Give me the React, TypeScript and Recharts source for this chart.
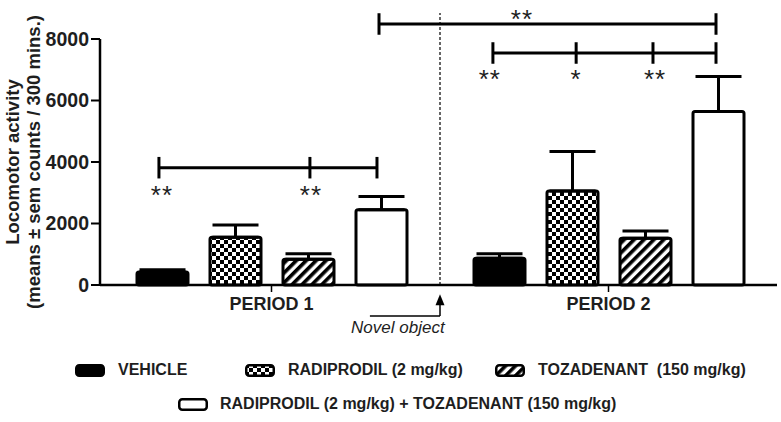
import React from "react";
import {
  BarChart,
  Bar,
  XAxis,
  YAxis,
  ErrorBar,
  ReferenceLine,
  ReferenceDot,
} from "recharts";

const periods = ["PERIOD 1", "PERIOD 2"];
const vehicleMean = [420, 870];
const vehicleSem = [80, 145];
const radiprodilMean = [1550, 3060];
const radiprodilSem = [400, 1280];
const tozadenantMean = [840, 1520];
const tozadenantSem = [175, 240];
const comboMean = [2450, 5640];
const comboSem = [430, 1140];
const yTicks = [0, 2000, 4000, 6000, 8000];

const seriesNames = [
  "VEHICLE",
  "RADIPRODIL (2 mg/kg)",
  "TOZADENANT  (150 mg/kg)",
  "RADIPRODIL (2 mg/kg) + TOZADENANT (150 mg/kg)",
];

// significance brackets, x as a fraction of the plot width (0 = left, 1 = right)
const bracketXs = [
  [0.083, 0.307, 0.4065],
  [0.4095, 0.9095],
  [0.5785, 0.702, 0.816, 0.9095],
];
const bracketYs = [3815, 8488, 7545];
const starXs = [0.0875, 0.3085, 0.6215, 0.574, 0.702, 0.819];
const starYs = [2930, 2930, 8660, 6700, 6700, 6700];
const starLabels = ["**", "**", "**", "**", "*", "**"];

const noveltyX = 0.5; // novel object introduced between periods
const noveltyLabel = "Novel object";

const data = periods.map((p, i) => ({
  period: p,
  vehicle: vehicleMean[i],
  vehicleErr: [0, vehicleSem[i]],
  radiprodil: radiprodilMean[i],
  radiprodilErr: [0, radiprodilSem[i]],
  tozadenant: tozadenantMean[i],
  tozadenantErr: [0, tozadenantSem[i]],
  combo: comboMean[i],
  comboErr: [0, comboSem[i]],
}));

const FONT = "'Liberation Sans', Arial, sans-serif";
const INK = "#1e1e1e";
const fills = ["#000", "url(#checker)", "url(#stripes)", "#fff"];
const keys = ["vehicle", "radiprodil", "tozadenant", "combo"];

const legendSlots = [
  { swatch: 75, text: 118, top: 364 },
  { swatch: 245, text: 288, top: 364 },
  { swatch: 495, text: 538, top: 364 },
  { swatch: 178, text: 220, top: 398 },
];

const YLabel = (props: any) => {
  const vb = props.viewBox || {};
  const cy = vb.y + vb.height / 2;
  return (
    <g fontFamily={FONT} fontWeight="bold" fontSize={18.5} fill={INK}>
      <text x={12} y={cy} transform={`rotate(-90, 12, ${cy})`} textAnchor="middle" dominantBaseline="central">
        Locomotor activity
      </text>
      <text x={33} y={cy} transform={`rotate(-90, 33, ${cy})`} textAnchor="middle" dominantBaseline="central">
        (means ± sem counts / 300 mins.)
      </text>
    </g>
  );
};

const ArrowUp = (p: any) => {
  const top = Math.min(p.y1, p.y2);
  const bottom = Math.max(p.y1, p.y2);
  const x = p.x1;
  return (
    <g>
      <line x1={x} y1={bottom} x2={x} y2={top + 9} stroke="#000" strokeWidth={1.5} />
      <polygon points={`${x},${top} ${x - 4.5},${top + 11} ${x + 4.5},${top + 11}`} fill="#000" />
    </g>
  );
};

const textShape = (label: string, size: number, italic = false, spacing = 0) => (p: any) => (
  <text
    x={p.cx}
    y={p.cy}
    textAnchor="middle"
    dominantBaseline="central"
    fontFamily={FONT}
    fontSize={size}
    fontStyle={italic ? "italic" : "normal"}
    letterSpacing={spacing}
    fill={INK}
  >
    {label}
  </text>
);

function Swatch({ fill }: { fill: string }) {
  return (
    <svg width={30} height={13} style={{ display: "block" }}>
      <rect x={1.25} y={1.25} width={27.5} height={10.5} rx={3} fill={fill} stroke="#000" strokeWidth={2.5} />
    </svg>
  );
}

export default function App() {
  return (
    <div style={{ position: "absolute", left: 0, top: 0, width: 781, height: 422, background: "#fff" }}>
      <BarChart
        width={781}
        height={422}
        data={data}
        margin={{ top: 39, right: 4, bottom: 107, left: 0 }}
        barSize={51}
        barGap={22}
      >
        <defs>
          <pattern id="checker" width={8} height={8} patternUnits="userSpaceOnUse">
            <rect width={8} height={8} fill="#fff" />
            <rect width={4} height={4} fill="#000" />
            <rect x={4} y={4} width={4} height={4} fill="#000" />
          </pattern>
          <pattern id="stripes" width={7} height={7} patternUnits="userSpaceOnUse" patternTransform="rotate(45)">
            <rect width={7} height={7} fill="#fff" />
            <rect width={3.6} height={7} fill="#000" />
          </pattern>
        </defs>
        <XAxis
          dataKey="period"
          padding={{ left: 3, right: 0 }}
          axisLine={{ stroke: "#000", strokeWidth: 2.5 }}
          tickLine={{ stroke: "#000", strokeWidth: 1.5 }}
          tickSize={7}
          tickMargin={5}
          tick={{ fontFamily: FONT, fontWeight: "bold", fontSize: 18, fill: INK }}
          height={30}
        />
        <XAxis
          xAxisId="n"
          type="number"
          domain={[0, 1]}
          allowDataOverflow
          padding={{ left: 3, right: 0 }}
          hide
        />
        <YAxis
          width={100}
          domain={[0, 8000]}
          ticks={yTicks}
          interval={0}
          axisLine={{ stroke: "#000", strokeWidth: 2.5 }}
          tickLine={{ stroke: "#000", strokeWidth: 2 }}
          tickSize={9}
          tickMargin={2}
          tick={{ fontFamily: FONT, fontWeight: "bold", fontSize: 19.5, fill: INK }}
          label={<YLabel />}
        />
        {keys.map((k, i) => (
          <Bar
            key={k}
            dataKey={k}
            name={seriesNames[i]}
            fill={fills[i]}
            stroke="#000"
            strokeWidth={3}
            radius={2}
            isAnimationActive={false}
          >
            <ErrorBar dataKey={`${k}Err`} width={23} strokeWidth={3} stroke="#000" direction="y" />
          </Bar>
        ))}
        <ReferenceLine
          xAxisId="n"
          segment={[{ x: noveltyX, y: 0 }, { x: noveltyX, y: 8846 }]}
          stroke="#000"
          strokeWidth={1.2}
          strokeDasharray="3 2"
          ifOverflow="visible"
        />
        <ReferenceLine
          xAxisId="n"
          segment={[{ x: 0.396, y: -1008 }, { x: noveltyX, y: -1008 }]}
          stroke="#000"
          strokeWidth={1.5}
          ifOverflow="visible"
        />
        <ReferenceLine
          xAxisId="n"
          segment={[{ x: noveltyX, y: -1008 }, { x: noveltyX, y: -302 }]}
          shape={ArrowUp}
          ifOverflow="visible"
        />
        <ReferenceDot
          xAxisId="n"
          x={0.4375}
          y={-1398}
          r={1}
          ifOverflow="visible"
          shape={textShape(noveltyLabel, 17, true)}
        />
        {bracketXs.map((xs, b) => (
          <React.Fragment key={`br-${b}`}>
            <ReferenceLine
              xAxisId="n"
              segment={[{ x: xs[0], y: bracketYs[b] }, { x: xs[xs.length - 1], y: bracketYs[b] }]}
              stroke="#000"
              strokeWidth={3}
              ifOverflow="visible"
            />
            {xs.map((x, t) => (
              <ReferenceLine
                key={`tk-${b}-${t}`}
                xAxisId="n"
                segment={[{ x, y: bracketYs[b] - 350 }, { x, y: bracketYs[b] + 350 }]}
                stroke="#000"
                strokeWidth={3}
                ifOverflow="visible"
              />
            ))}
          </React.Fragment>
        ))}
        {starXs.map((x, s) => (
          <ReferenceDot
            key={`st-${s}`}
            xAxisId="n"
            x={x}
            y={starYs[s]}
            r={1}
            ifOverflow="visible"
            shape={textShape(starLabels[s], 26, false, 1)}
          />
        ))}
      </BarChart>
      {seriesNames.map((name, i) => (
        <React.Fragment key={name}>
          <div style={{ position: "absolute", left: legendSlots[i].swatch, top: legendSlots[i].top }}>
            <Swatch fill={fills[i]} />
          </div>
          <div
            style={{
              position: "absolute",
              left: legendSlots[i].text,
              top: legendSlots[i].top - 4,
              fontFamily: FONT,
              fontWeight: "bold",
              fontSize: 16,
              lineHeight: "20px",
              color: INK,
              whiteSpace: "pre",
            }}
          >
            {name}
          </div>
        </React.Fragment>
      ))}
    </div>
  );
}
